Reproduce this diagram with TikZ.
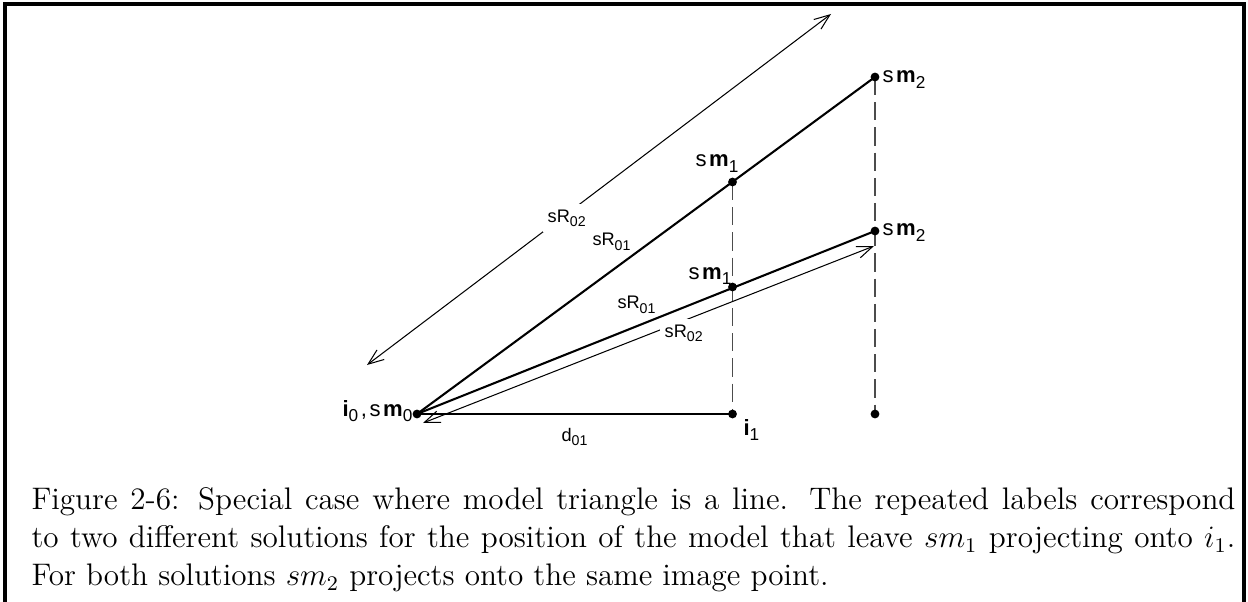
\documentclass[tikz,border=0pt]{standalone}
\usepackage{fontspec}
\newfontfamily\lblfont{Liberation Sans}
\usetikzlibrary{arrows.meta}
\newcommand{\lsub}[1]{\raisebox{-0.25em}{\scalebox{0.78}{#1}}}
\tikzset{
  mainline/.style={line width=0.8pt},
  projline/.style={line width=0.6pt,black!70,dash pattern=on 7pt off 2.7pt},
  distarrow/.style={line width=0.4pt,{Straight Barb[length=6pt,width=4.6pt]}-{Straight Barb[length=6pt,width=4.6pt]}},
  smlabel/.style={font=\lblfont\fontsize{8.5}{10}\selectfont,inner sep=0pt,anchor=base west},
  rlabel/.style={font=\lblfont\fontsize{7}{8}\selectfont,inner sep=0pt,anchor=base west},
  cutlabel/.style={rlabel,fill=white,inner sep=2pt}
}
\begin{document}
\begin{tikzpicture}[x=0.385pt,y=-0.385pt]
\useasboundingbox (0,0) rectangle (1248,602);
% frame
\draw[line width=1.2pt] (5,602) -- (5,4) -- (1244,4) -- (1244,602);
% points
\coordinate (O) at (417,414);
\coordinate (I1) at (732.5,414);
\coordinate (P2) at (875,414);
\coordinate (A1) at (732.5,182);
\coordinate (A2) at (875,77);
\coordinate (B1) at (732.5,287);
\coordinate (B2) at (875,231);
\coordinate (T1) at (367,365);
\coordinate (T2) at (831,14);
\coordinate (L1) at (423,423);
\coordinate (L2) at (874,246);
% projections
\draw[projline] (A1) -- (I1);
\draw[projline] (A2) -- (P2);
% model lines
\draw[mainline] (O) -- (A2);
\draw[mainline] (O) -- (B2);
\draw[mainline] (O) -- (I1);
% distances
\draw[distarrow] (T1) -- (T2);
\draw[distarrow] (L1) -- (L2);
\foreach \p in {O,I1,P2,A1,A2,B1,B2}
  {\fill (\p) circle (1.7pt);}
% labels
\node[smlabel] (lblO) at (342,416) {\textbf{i}\lsub{0}\kern1pt,\kern1pt s\kern1pt\textbf{m}\lsub{0}};
\node[smlabel] (lblI1) at (743,435) {\textbf{i}\lsub{1}};
\node[smlabel] (lblA1) at (695,167) {s\kern1pt\textbf{m}\lsub{1}};
\node[smlabel] (lblB1) at (688,279) {s\kern1pt\textbf{m}\lsub{1}};
\node[smlabel] (lblA2) at (882,83) {s\kern1pt\textbf{m}\lsub{2}};
\node[smlabel] (lblB2) at (882,236) {s\kern1pt\textbf{m}\lsub{2}};
\node[rlabel] (lblD) at (561,441) {d\lsub{01}};
\node[rlabel] (lblRA) at (592,246) {sR\lsub{01}};
\node[rlabel] (lblRB) at (617,309) {sR\lsub{01}};
\node[cutlabel] (lblRT) at (542,222) {sR\lsub{02}};
\node[cutlabel] (lblRL) at (659,337) {sR\lsub{02}};
% caption
\node[anchor=north west,inner sep=0pt,text width=463.5pt,align=justify,
      font=\fontsize{12}{14.63}\selectfont] (caption) at (31,487.4)
  {Figure 2-6: Special case where model triangle is a line. The repeated labels correspond\linebreak
   to two different solutions for the position of the model that leave $sm_1$ projecting onto $i_1$.\linebreak
   For both solutions $sm_2$ projects onto the same image point.};
\end{tikzpicture}
\end{document}
